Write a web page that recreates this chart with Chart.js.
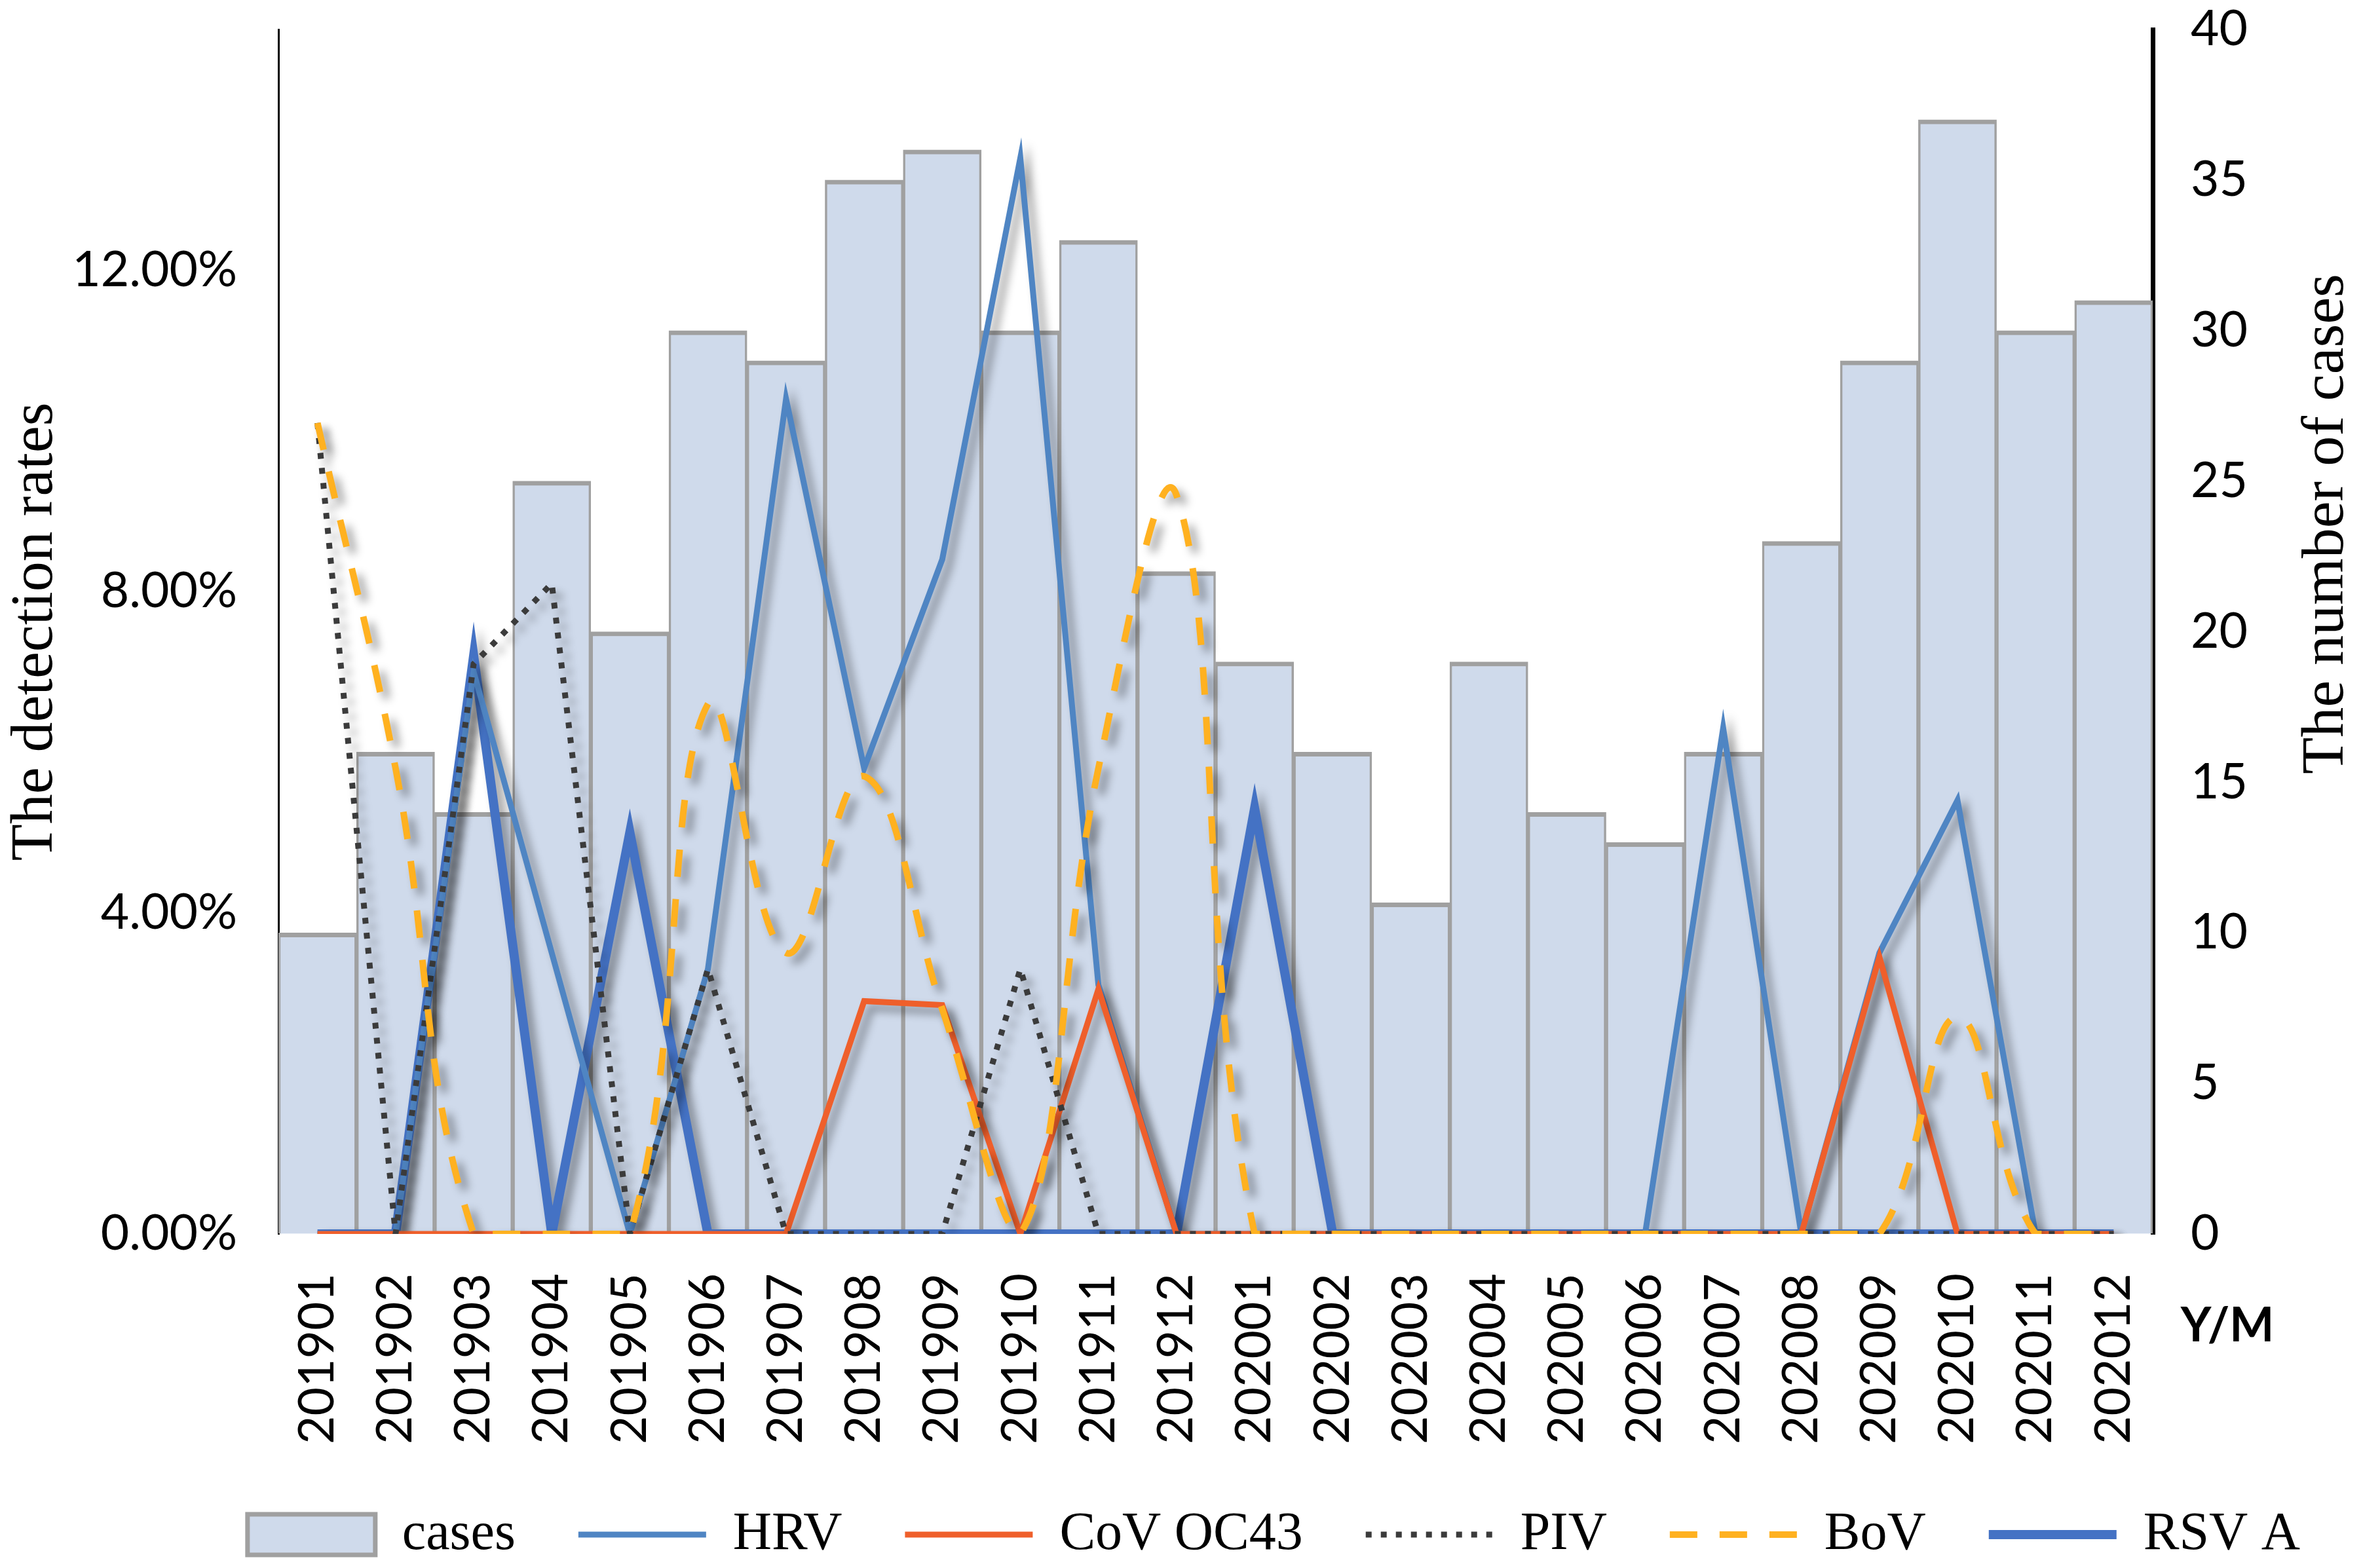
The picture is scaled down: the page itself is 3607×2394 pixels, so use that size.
<!DOCTYPE html>
<html>
<head>
<meta charset="utf-8">
<script src="https://cdn.jsdelivr.net/npm/chart.js@4.4.1/dist/chart.umd.min.js"></script>
<style>
  html, body { margin: 0; padding: 0; background: #fff; }
  #wrap { width: 3607px; height: 2394px; position: relative; }
</style>
</head>
<body>
<div id="wrap"><canvas id="myChart"></canvas></div>
<script>
// months on the x axis
const months = ["201901", "201902", "201903", "201904", "201905", "201906",
    "201907", "201908", "201909", "201910", "201911", "201912",
    "202001", "202002", "202003", "202004", "202005", "202006",
    "202007", "202008", "202009", "202010", "202011", "202012"];

// number of cases (right axis)
const cases = [10, 16, 14, 25, 20, 30, 29, 35, 36, 30, 33, 22,
    19, 16, 11, 19, 14, 13, 16, 23, 29, 37, 30, 31];

// detection rates in % (left axis)
const hrv = [0, 0, 7.0, 3.5, 0, 3.3, 10.4, 5.8, 8.4, 13.4, 3.1, 0,
    0, 0, 0, 0, 0, 0, 6.3, 0, 3.5, 5.4, 0, 0];
const cov = [0, 0, 0, 0, 0, 0, 0, 2.9, 2.85, 0, 3.05, 0,
    0, 0, 0, 0, 0, 0, 0, 0, 3.45, 0, 0, 0];
const piv = [10.1, 0, 7.1, 8.1, 0, 3.3, 0, 0, 0, 3.3, 0, 0,
    0, 0, 0, 0, 0, 0, 0, 0, 0, 0, 0, 0];
const bov = [10.1, 5.8, 0, 0, 0, 6.6, 3.5, 5.7, 2.8, 0, 5.8, 9.2,
    0, 0, 0, 0, 0, 0, 0, 0, 0, 2.7, 0, 0];
const rsvA = [0, 0, 7.2, 0, 5.0, 0, 0, 0, 0, 0, 0, 0,
    5.3, 0, 0, 0, 0, 0, 0, 0, 0, 0, 0, 0];

const rateTicks = [0, 4, 8, 12];

const serif = "'Liberation Serif', 'Times New Roman', serif";
const sans = "Lato, 'Open Sans', sans-serif";

// soft drop shadow under the lines, like the Excel original
const lineShadow = {
    id: "lineShadow",
    beforeDatasetDraw(chart, args) {
        if (args.meta.type !== "line") return;
        const ctx = chart.ctx;
        ctx.save();
        ctx.shadowColor = "rgba(0,0,0,0.4)";
        ctx.shadowBlur = 14;
        ctx.shadowOffsetX = 10;
        ctx.shadowOffsetY = 10;
    },
    afterDatasetDraw(chart, args) {
        if (args.meta.type !== "line") return;
        chart.ctx.restore();
    }
};

// right title reads bottom-to-top, plus the "Y/M" label
const extraText = {
    id: "extraText",
    afterDraw(chart) {
        const ctx = chart.ctx;
        ctx.save();
        ctx.fillStyle = "#000";
        ctx.textAlign = "center";
        ctx.textBaseline = "middle";
        ctx.font = "92px " + serif;
        ctx.translate(3552, 800);
        ctx.rotate(-Math.PI / 2);
        ctx.fillText("The number of cases", 0, 0);
        ctx.restore();

        ctx.save();
        ctx.fillStyle = "#000";
        ctx.textAlign = "center";
        ctx.textBaseline = "middle";
        ctx.font = "bold 72px " + sans;
        ctx.fillText("Y/M", 3400, 2025);
        ctx.restore();
    }
};

function lineSet(label, data, color, width, extra) {
    return Object.assign({
        type: "line",
        label: label,
        data: data,
        yAxisID: "y",
        borderColor: color,
        backgroundColor: color,
        borderWidth: width,
        pointRadius: 0,
        pointHoverRadius: 0,
        pointStyle: "line",
        tension: 0,
        fill: false,
        clip: 0
    }, extra || {});
}

new Chart("myChart", {
    data: {
        labels: months,
        datasets: [
            {
                type: "bar",
                label: "cases",
                data: cases,
                yAxisID: "y1",
                backgroundColor: "#CFDAEB",
                borderColor: "#A0A0A0",
                borderWidth: {top: 7, left: 3.5, right: 3.5, bottom: 0},
                borderSkipped: false,
                barPercentage: 1,
                categoryPercentage: 1,
                order: 6
            },
            lineSet("HRV", hrv, "#4F85C3", 9, {order: 4}),
            lineSet("CoV OC43", cov, "#EF5F2B", 9, {order: 3}),
            lineSet("PIV", piv, "#3B3B3B", 9, {order: 2, borderDash: [9, 14]}),
            lineSet("BoV", bov, "#FFB120", 10, {order: 1, borderDash: [42, 34], tension: 0.4}),
            lineSet("RSV A", rsvA, "#4472C4", 14, {order: 5})
        ]
    },
    options: {
        responsive: true,
        maintainAspectRatio: false,
        devicePixelRatio: 1,
        animation: false,
        layout: {padding: {top: 44, left: 0, right: 0, bottom: 0}},
        plugins: {
            tooltip: {enabled: false},
            title: {display: false},
            legend: {
                position: "bottom",
                align: "end",
                labels: {
                    usePointStyle: true,
                    pointStyleWidth: 195,
                    boxHeight: 62,
                    padding: 96,
                    color: "#000",
                    font: {family: serif, size: 82},
                    sort: (a, b) => a.datasetIndex - b.datasetIndex,
                    generateLabels(chart) {
                        const items = Chart.defaults.plugins.legend.labels.generateLabels(chart);
                        items.forEach(function(it) {
                            const ds = chart.data.datasets[it.datasetIndex];
                            if (ds.type === "bar") {
                                it.pointStyle = "rect";
                                it.lineWidth = 7;
                            } else {
                                it.pointStyle = "line";
                                it.lineWidth = ds.borderWidth;
                                it.strokeStyle = ds.borderColor;
                                it.lineDash = ds.borderDash || [];
                                it.lineCap = "butt";
                            }
                        });
                        return items;
                    }
                }
            }
        },
        scales: {
            x: {
                grid: {display: false, drawTicks: false},
                border: {display: false},
                ticks: {
                    autoSkip: false,
                    maxRotation: 90,
                    minRotation: 90,
                    padding: 60,
                    color: "#000",
                    font: {family: sans, size: 75}
                },
                afterFit(scale) { scale.height = 322; }
            },
            y: {
                position: "left",
                min: 0,
                max: 15,
                grid: {display: true, drawOnChartArea: false, drawTicks: true,
                    tickLength: 63, color: "transparent"},
                border: {display: true, color: "#000", width: 3},
                ticks: {
                    padding: 0,
                    color: "#000",
                    font: {family: sans, size: 75},
                    callback: v => v.toFixed(2) + "%"
                },
                afterBuildTicks(scale) {
                    scale.ticks = rateTicks.map(v => ({value: v}));
                },
                title: {
                    display: true,
                    text: "The detection rates",
                    color: "#000",
                    padding: 0,
                    font: {family: serif, size: 92}
                },
                afterFit(scale) { scale.width = 425; }
            },
            y1: {
                position: "right",
                min: 0,
                max: 40,
                grid: {display: true, drawOnChartArea: false, drawTicks: true,
                    tickLength: 58, color: "transparent"},
                border: {display: true, color: "#000", width: 7},
                ticks: {
                    stepSize: 5,
                    padding: 0,
                    color: "#000",
                    font: {family: sans, size: 75}
                },
                afterFit(scale) { scale.width = 321; }
            }
        }
    },
    plugins: [lineShadow, extraText]
});
</script>
</body>
</html>
